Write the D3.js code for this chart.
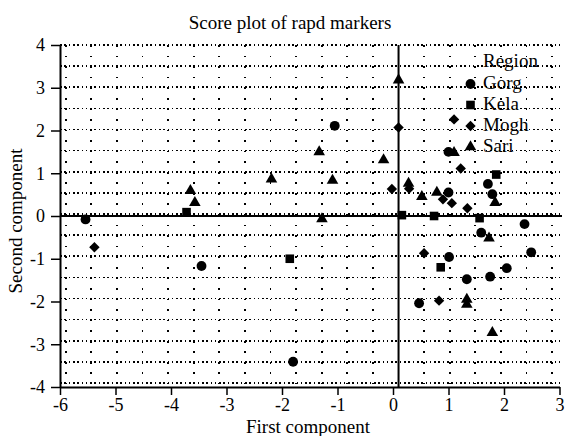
<!DOCTYPE html>
<html>
<head>
<meta charset="utf-8">
<script src="https://d3js.org/d3.v7.min.js"></script>
<style>
  body { margin: 0; background: #fff; }
  text { font-family: "Liberation Serif", "Times New Roman", serif; fill: #000; }
</style>
</head>
<body>
<div id="chart"></div>
<script>
var width = 566,
    height = 436;

// scores, [first component, second component]
var gorg = [[-5.54, -0.08], [-3.45, -1.17], [-1.05, 2.11], [1.0, 1.5], [1.71, 0.75],
            [1.0, 0.55], [1.79, 0.51], [2.37, -0.19], [1.59, -0.39], [1.01, -0.96],
            [2.49, -0.85], [2.05, -1.22], [1.33, -1.48], [1.75, -1.42], [0.47, -2.04],
            [-1.8, -3.41]];
var kela = [[-3.72, 0.09], [-1.86, -1.0], [1.86, 0.97], [0.16, 0.02], [0.74, 0.0],
            [1.56, -0.05], [0.86, -1.2]];
var mogh = [[-5.38, -0.73], [0.1, 2.07], [1.1, 2.26], [1.22, 1.11], [-0.02, 0.63],
            [0.29, 0.64], [0.9, 0.39], [1.06, 0.3], [1.34, 0.18], [0.56, -0.87],
            [0.83, -1.98]];
var sari = [[-3.65, 0.59], [-3.57, 0.31], [-1.33, 1.5], [-0.17, 1.31], [-2.19, 0.86],
            [-1.09, 0.83], [-1.28, -0.07], [0.1, 3.18], [1.1, 1.48], [0.28, 0.76],
            [0.52, 0.45], [0.79, 0.55], [1.84, 0.31], [1.73, -0.52], [1.33, -1.95],
            [1.33, -2.07], [1.79, -2.73]];

var regions = ["Gorg", "Kela", "Mogh", "Sari"];
var xTicks = [-6, -5, -4, -3, -2, -1, 0, 1, 2, 3];
var yTicks = [-4, -3, -2, -1, 0, 1, 2, 3, 4];
var refX = 0.1; // the vertical reference line sits a touch right of 0

var x = d3.scaleLinear().domain([-6, 3]).range([60, 559.5]);
var y = d3.scaleLinear().domain([-4, 4]).range([387, 45]);

var svg = d3.select("#chart").append("svg")
    .attr("width", width)
    .attr("height", height);

svg.append("rect")
    .attr("width", width)
    .attr("height", height)
    .attr("fill", "#fff");

// dotted drawing grid behind everything
var grid = svg.append("g").attr("class", "grid").attr("shape-rendering", "crispEdges");
var rowStep = (383 - 45) / 16;
d3.range(17).forEach(function(k) {
    grid.append("line")
        .attr("x1", 60).attr("x2", 563)
        .attr("y1", 45 + k * rowStep).attr("y2", 45 + k * rowStep)
        .attr("stroke", "#000")
        .attr("stroke-width", 1.6)
        .attr("stroke-dasharray", "1.6,2.7");
});
var colStep = 25.6;
var cols = [];
for (var cx = x(refX) - colStep; cx > 62; cx -= colStep) cols.push(cx);
for (var cx2 = x(refX) + colStep; cx2 < 560; cx2 += colStep) cols.push(cx2);
cols.forEach(function(cx) {
    grid.append("line")
        .attr("x1", cx).attr("x2", cx)
        .attr("y1", 45).attr("y2", 384)
        .attr("stroke", "#000")
        .attr("stroke-width", 1.8)
        .attr("stroke-dasharray", "1.8," + (rowStep / 2 - 1.8));
});

// reference lines
svg.append("line")
    .attr("x1", x(-6)).attr("x2", 562)
    .attr("y1", y(0)).attr("y2", y(0))
    .attr("stroke", "#000").attr("stroke-width", 2);
svg.append("line")
    .attr("x1", x(refX)).attr("x2", x(refX))
    .attr("y1", y(4)).attr("y2", y(-4))
    .attr("stroke", "#000").attr("stroke-width", 2);

// axes
var xAxis = svg.append("g")
    .attr("transform", "translate(0," + y(-4) + ")")
    .call(d3.axisBottom(x).tickValues(xTicks).tickFormat(d3.format("d"))
        .tickSize(8).tickSizeOuter(0).tickPadding(3));
var yAxis = svg.append("g")
    .attr("transform", "translate(" + x(-6) + ",0)")
    .call(d3.axisLeft(y).tickValues(yTicks).tickFormat(d3.format("d"))
        .tickSize(9).tickSizeOuter(0).tickPadding(6));

[xAxis, yAxis].forEach(function(a) {
    a.attr("font-family", null).attr("font-size", null);
    a.select(".domain").attr("stroke-width", 2);
    a.selectAll(".tick line").attr("stroke-width", 1.5);
    a.selectAll(".tick text")
        .style("font-family", "'Liberation Serif', serif")
        .style("font-size", "18px")
        .text(function(d) { return d < 0 ? "-" + Math.abs(d) : d; });
});

// symbols
var shapes = {
    Gorg: d3.symbol().type(d3.symbolCircle).size(76),
    Kela: d3.symbol().type(d3.symbolSquare).size(74),
    Mogh: d3.symbol().type(d3.symbolSquare).size(54),
    Sari: d3.symbol().type(d3.symbolTriangle).size(58)
};
var rot = { Gorg: 0, Kela: 0, Mogh: 45, Sari: 0 };
var series = { Gorg: gorg, Kela: kela, Mogh: mogh, Sari: sari };

regions.forEach(function(r) {
    svg.append("g").attr("class", "pts-" + r)
        .selectAll("path")
        .data(series[r])
        .enter()
        .append("path")
        .attr("d", shapes[r]())
        .attr("transform", function(d) {
            return "translate(" + x(d[0]) + "," + y(d[1]) + ") rotate(" + rot[r] + ")";
        })
        .attr("fill", "#000");
});

// legend
var legend = svg.append("g").attr("class", "legend");
legend.append("text")
    .attr("x", 483).attr("y", 67)
    .style("font-size", "19px")
    .text("Region");
regions.forEach(function(r, i) {
    var by = 89 + i * 21;
    legend.append("path")
        .attr("d", shapes[r]())
        .attr("transform", "translate(470.5," + (by - 5) + ") rotate(" + rot[r] + ")")
        .attr("fill", "#000");
    legend.append("text")
        .attr("x", 483).attr("y", by)
        .style("font-size", "19px")
        .text(r);
});

// titles
svg.append("text")
    .attr("x", 290).attr("y", 29)
    .attr("text-anchor", "middle")
    .style("font-size", "19px")
    .text("Score plot of rapd markers");
svg.append("text")
    .attr("x", 308).attr("y", 433)
    .attr("text-anchor", "middle")
    .style("font-size", "19px")
    .text("First component");
svg.append("text")
    .attr("transform", "translate(22,221) rotate(-90)")
    .attr("text-anchor", "middle")
    .style("font-size", "19px")
    .text("Second component");
</script>
</body>
</html>
